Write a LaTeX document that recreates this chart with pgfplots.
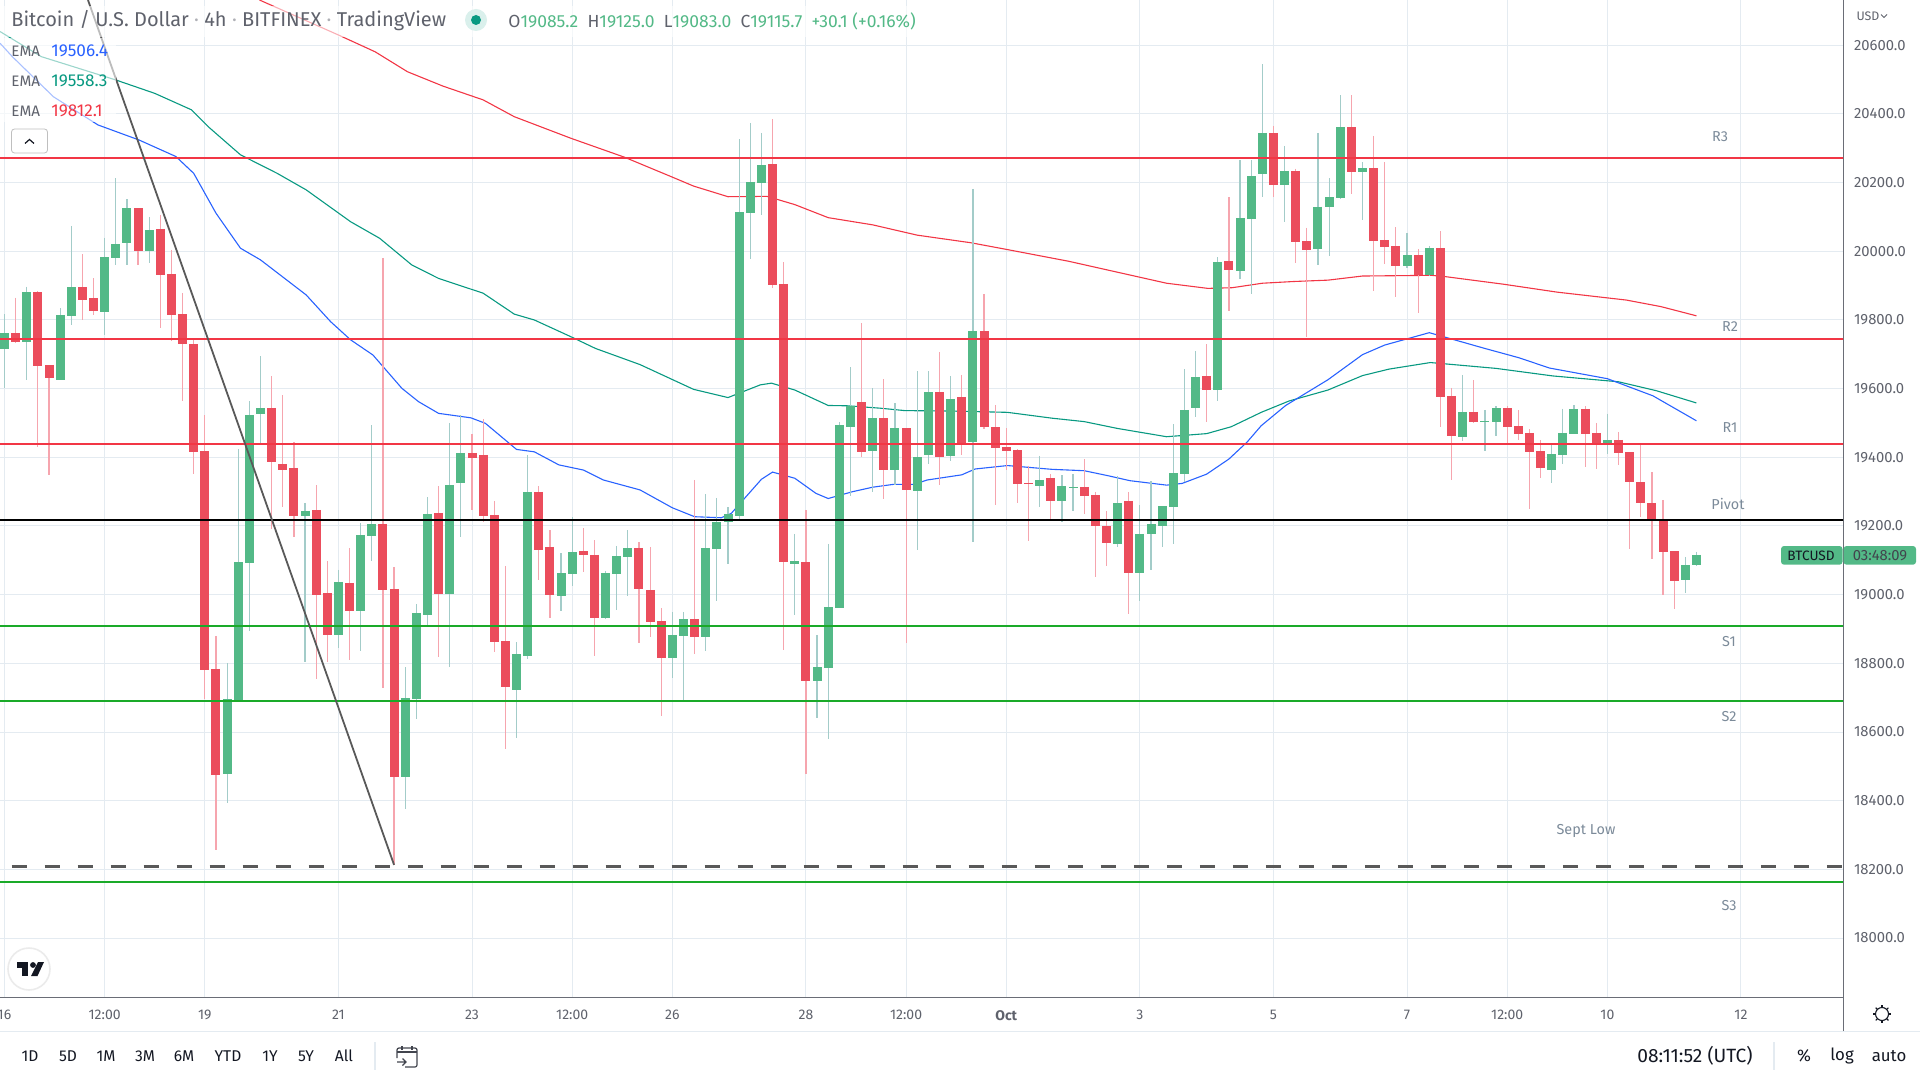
\documentclass[border=0pt]{standalone}
\usepackage{fontspec}
\setmainfont{Fira Sans}
\usepackage{pgfplots}
\usepackage{pgfplotstable}
\usetikzlibrary{calc}
\pgfplotsset{compat=1.18}

\definecolor{bodyG}{HTML}{53B987}
\definecolor{bodyR}{HTML}{EB4D5C}
\definecolor{wickG}{HTML}{A3CCC9}
\definecolor{wickR}{HTML}{F6A5AE}
\definecolor{lineR}{HTML}{F23645}
\definecolor{lineG}{HTML}{1AAA29}
\definecolor{emaB}{HTML}{2962FF}
\definecolor{emaG}{HTML}{089981}
\definecolor{gridc}{HTML}{E4EBF1}
\definecolor{axisc}{HTML}{50535E}
\definecolor{txt}{HTML}{5F626C}
\definecolor{note}{HTML}{7B8A99}
\definecolor{ink}{HTML}{131722}

% i hi top bot lo
\pgfplotstableread{
i hi top bot lo
0 19817 19762 19716 19601
2 19897 19881 19736 19625
5 19834 19815 19625 19625
6 20074 19896 19812 19785
9 20039 19983 19823 19756
10 20213 20021 19981 19960
11 20152 20126 20024 19960
13 20100 20062 20001 19966
20 18801 18696 18478 18393
21 19424 19095 18693 18693
22 19564 19523 19092 18894
23 19695 19544 19526 19441
27 19267 19244 19229 18804
30 19072 19037 18883 18845
32 19209 19174 18952 18836
33 19494 19206 19171 19098
36 18789 18699 18469 18376
37 18973 18947 18696 18638
38 19284 19235 18941 18912
40 19500 19319 19002 18789
41 19523 19413 19325 19168
46 18862 18827 18722 18583
47 19407 19299 18821 18813
50 19121 19063 18996 18952
51 19226 19124 19060 19025
54 19069 19063 18932 18929
55 19142 19113 19060 18955
56 19188 19136 19110 18996
60 18950 18883 18816 18757
61 18950 18929 18880 18693
63 19293 19136 18877 18836
64 19282 19212 19133 18982
65 19255 19235 19212 19089
66 20327 20114 19229 19217
67 20374 20202 20112 19978
68 20345 20251 20199 20106
71 19177 19098 19089 18941
73 18883 18789 18749 18641
74 19148 18964 18786 18580
75 19503 19494 18961 18961
76 19663 19549 19488 19286
78 19602 19515 19418 19299
80 19558 19485 19363 19319
82 19651 19401 19302 19130
83 19651 19590 19407 19381
85 19637 19570 19404 19389
87 20182 19768 19445 19153
93 19404 19334 19316 19255
95 19348 19316 19273 19212
96 19351 19314 19311 19244
100 19346 19267 19147 19139
102 19261 19177 19063 18982
103 19331 19206 19177 19072
104 19258 19258 19200 19139
105 19497 19354 19255 19148
106 19657 19538 19351 19329
107 19710 19634 19544 19517
109 19983 19969 19596 19564
111 20266 20097 19943 19919
112 20266 20219 20094 19876
113 20545 20345 20225 20158
115 20307 20234 20193 20085
118 20345 20130 20007 19960
119 20213 20158 20130 19987
120 20455 20362 20155 20152
122 20259 20242 20231 20092
126 20054 19989 19957 19952
128 20016 20009 19932 19927
131 19640 19532 19460 19447
133 19538 19505 19503 19418
134 19549 19543 19503 19462
139 19436 19409 19363 19325
140 19542 19471 19406 19381
141 19552 19541 19467 19467
144 19527 19451 19441 19409
151 19110 19086 19043 19005
152 19125 19115.7 19085.2 19083
}\upc

\pgfplotstableread{
i hi top bot lo
1 19865 19762 19736 19732
3 19884 19881 19666 19431
4 19669 19669 19631 19349
7 19992 19896 19858 19800
8 19922 19864 19826 19815
12 20126 20126 20001 19960
14 20106 20065 19931 19777
15 20004 19934 19815 19739
16 19879 19817 19730 19564
17 19742 19730 19416 19351
18 19523 19418 18781 18696
19 18880 18784 18475 18256
24 19637 19544 19386 19191
25 19581 19381 19363 19255
26 19445 19369 19229 19168
28 19319 19247 18999 18754
29 19098 19005 18883 18804
31 19136 19034 18952 18810
34 19981 19206 19014 18728
35 19081 19017 18469 18213
39 19316 19238 19002 18818
42 19468 19413 19398 19247
43 19512 19407 19229 19212
44 19273 19232 18862 18833
45 19084 18865 18731 18551
48 19316 19299 19130 19043
49 19188 19139 18999 18932
52 19194 19127 19116 19066
53 19159 19116 18932 18821
57 19153 19136 19017 18859
58 19139 19014 18920 18877
59 18961 18923 18816 18647
62 19334 18929 18877 18827
69 20385 20254 19902 19893
70 19969 19905 19095 18839
72 19247 19095 18749 18478
77 19791 19561 19416 19401
79 19628 19515 19363 19279
81 19485 19485 19305 18859
84 19707 19590 19401 19319
86 19640 19576 19439 19407
88 19876 19768 19488 19482
89 19552 19488 19427 19261
90 19485 19430 19418 19363
91 19424 19421 19322 19267
92 19375 19325 19322 19156
94 19351 19340 19273 19220
97 19395 19314 19287 19235
98 19299 19290 19200 19051
99 19244 19200 19150 19084
101 19299 19273 19063 18944
108 19730 19637 19596 19503
110 20158 19972 19946 19826
114 20365 20345 20193 20158
116 20241 20234 20027 19966
117 20069 20030 20004 19750
121 20455 20362 20231 20166
123 20336 20242 20030 19884
124 20260 20032 20012 19962
125 20070 20016 19957 19866
127 20007 19989 19932 19821
129 20059 20009 19576 19489
130 19602 19579 19462 19334
132 19625 19532 19503 19500
135 19549 19543 19489 19443
136 19538 19491 19467 19451
137 19482 19471 19415 19249
138 19451 19418 19368 19339
142 19549 19541 19467 19372
143 19500 19471 19438 19366
145 19474 19451 19413 19377
146 19415 19415 19328 19133
147 19437 19328 19267 19226
148 19356 19267 19218 19104
149 19276 19215 19124 18999
150 19127 19127 19039 18959
}\dnc

\newcommand{\wicks}[2]{\addplot[draw=none, mark=none, forget plot,
    error bars/.cd, y dir=minus, y explicit, error mark=none,
    error bar style={line width=0.6pt, draw=#2}]
    table[x=i, y=hi, y error minus expr=\thisrow{hi}-\thisrow{lo}] {#1};}
\newcommand{\bodies}[2]{\addplot[draw=none, mark=none, forget plot,
    error bars/.cd, y dir=minus, y explicit, error mark=none,
    error bar style={line width=4.5pt, draw=#2}]
    table[x=i, y=top, y error minus expr=\thisrow{top}-\thisrow{bot}] {#1};}
\newcommand{\level}[2]{\addplot[#2, line width=1pt, forget plot] coordinates {(-1,#1) (166,#1)};}

\begin{document}
\begin{tikzpicture}
\path[use as bounding box] (0,0) rectangle (960pt,-540pt);
\begin{axis}[
    at={(0,0)}, anchor=north west,
    scale only axis, width=921.5pt, height=498.5pt,
    xmin=-0.404, xmax=165.17, ymin=17828.2, ymax=20731.9,
    axis x line*=bottom, axis y line*=right,
    axis line style={color=axisc!85, line width=0.5pt, -},
    major tick length=0pt,
    grid=major, grid style={gridc, line width=0.5pt},
    xtick={0,9,18,30,42,51,60,72,81,90,102,114,126,135,144,156},
    xticklabels={16,12:00,19,21,23,12:00,26,28,12:00,\textbf{Oct},3,5,7,12:00,10,12},
    ytick={18000,18200,...,20600},
    scaled y ticks=false,
    /pgf/number format/.cd, fixed, fixed zerofill, precision=1, 1000 sep={}, assume math mode=true,
    /pgfplots/.cd,
    ticklabel style={font=\fontsize{7}{8}\selectfont, color=txt},
    xticklabel style={yshift=-3pt},
    yticklabel style={xshift=2pt, font=\fontsize{7.4}{8}\selectfont},
]
% EMA 200
\addplot[lineR, line width=0.55pt, forget plot] coordinates {
(22.9,20732) (30,20630) (33.3,20581) (36.2,20523) (39.4,20481) (43,20441) (45.8,20392)
(50.9,20329) (55.7,20274) (60,20216) (61.9,20190) (65,20159) (68.5,20160) (71,20136)
(74,20098) (78,20077) (82,20047) (86.8,20025) (90.1,20005) (95.6,19971) (100,19939)
(104.4,19907) (108.1,19892) (110.3,19894) (113,19907) (115.8,19912) (118.9,19916)
(122,19928) (128.2,19930) (129.5,19926) (134.7,19904) (139.5,19881) (145.7,19858)
(148.8,19839) (152,19812.1)};
% EMA 100
\addplot[emaG, line width=0.55pt, forget plot] coordinates {
(-0.4,20640) (3.3,20567) (10,20499) (13.5,20460) (16.8,20412) (18.3,20363) (21.2,20281)
(24.5,20227) (27.1,20179) (31.1,20086) (33.7,20038) (36.6,19960) (39,19921) (43,19878)
(45.8,19817) (47.6,19800) (50.9,19751) (53.1,19717) (57.1,19670) (61.9,19598) (65,19574)
(67.9,19611) (68.9,19616) (71,19596) (74,19551) (75.8,19550) (78.7,19543) (80.9,19536)
(84.6,19535) (90.1,19531) (94.1,19514) (97,19504) (100,19484) (104.4,19460) (108,19469)
(110.2,19489) (111.3,19506) (112.9,19531) (115.4,19564) (118.9,19596) (122,19638)
(124.4,19657) (128.1,19676) (134,19659) (139.1,19637) (145,19620) (148.4,19594) (152,19558.3)};
% EMA 50
\addplot[emaB, line width=0.55pt, forget plot] coordinates {
(-0.4,20606) (0.7,20567) (4.4,20450) (8.4,20368) (12.1,20324) (15.4,20276) (17,20227)
(19,20111) (21.2,20009) (23,19975) (27.1,19873) (29.3,19795) (31.1,19742) (33.1,19698)
(35.7,19601) (37.2,19562) (39,19528) (41.9,19515) (43.2,19499) (46,19423) (47.6,19416)
(49.8,19378) (52,19363) (53.8,19334) (57.1,19305) (60,19253) (62,19227) (64.4,19224)
(65.3,19237) (68,19336) (69,19357) (71,19339) (72.9,19295) (74,19280) (76.2,19300)
(78,19313) (79.8,19321) (81.7,19321) (82.9,19334) (86,19349) (87.2,19366) (90.1,19376)
(94.1,19365) (97,19361) (99.2,19346) (101.1,19332) (104.4,19319) (105.8,19324) (108,19351)
(110,19395) (111.65,19445) (112.9,19492) (115.1,19551) (118.9,19626) (122,19699)
(124,19727) (128,19763) (133,19717) (136.05,19690) (138.8,19660) (144,19629) (148.1,19579)
(152,19506.4)};
\wicks{\upc}{wickG}
\wicks{\dnc}{wickR}
\bodies{\upc}{bodyG}
\bodies{\dnc}{bodyR}
\level{20271.7}{lineR}
\level{19744.6}{lineR}
\level{19438.8}{lineR}
\level{19217.4}{black}
\level{18908.7}{lineG}
\level{18690.3}{lineG}
\level{18164}{lineG}
\addplot[color=black!65, line width=1.5pt, dash pattern=on 7.75pt off 8.75pt, forget plot]
    coordinates {(0.65,18208.8) (166,18208.8)};
\addplot[color=black!65, line width=0.9pt, forget plot]
    coordinates {(7.5,20731.9) (35,18213)};
\end{axis}

\begin{scope}[x=0.5pt, y=-0.5pt]
% header fades what runs under it
\fill[white, opacity=0.6] (0,6) rectangle (925,37);
\fill[white, opacity=0.6] (0,38) rectangle (116,122);
% right axis stub, footer rule
\draw[axisc!85, line width=0.5pt] (1843,997) -- (1843,1031);
\draw[gridc, line width=0.6pt] (0,1031.5) -- (1920,1031.5);

\tikzset{every node/.style={inner sep=0pt}}
\node[anchor=west, text=txt, font=\fontsize{10}{11}\selectfont] at (11,21)
    {Bitcoin / U.S. Dollar {\color{txt!50}·} 4h {\color{txt!50}·} BITFINEX {\color{txt!50}·} TradingView};
\fill[emaG!15] (476,20) circle (11);
\fill[emaG] (476,20) circle (5);
\node[anchor=west, font=\fontsize{8.75}{10}\selectfont, color=bodyG] at (508,21)
    {{\color{txt}O}19085.2\ \ {\color{txt}H}19125.0\ \ {\color{txt}L}19083.0\ \ {\color{txt}C}19115.7\ \ +30.1 (+0.16\%)};
\foreach \yy/\val/\cc in {51/19506.4/emaB, 81/19558.3/emaG, 111/19812.1/lineR}{
    \node[anchor=west, font=\fontsize{7.6}{8}\selectfont, color=txt] at (11,\yy) {EMA};
    \node[anchor=west, font=\fontsize{8.6}{9}\selectfont, color=\cc] at (51,\yy) {\val};
}
\draw[black!25, fill=white, line width=0.4pt, rounded corners=1.5pt] (11.5,129) rectangle (47.5,153);
\draw[ink, line width=0.6pt] (25,143.5) -- (29.5,139.5) -- (34,143.5);

% drawn labels
\foreach \xx/\yy/\tt in {1720/137/R3, 1730/327/R2, 1730/427.5/R1, 1728/504/Pivot,
    1729/641.5/S1, 1729/717/S2, 1729/906/S3, 1586/830.5/Sept Low}{
    \node[font=\fontsize{7.2}{8}\selectfont, color=note] at (\xx,\yy) {\tt};
}

% price tag
\fill[bodyG, rounded corners=1.5pt] (1781,546) rectangle (1842.5,564.7);
\fill[bodyG, rounded corners=1.5pt] (1843.5,546) rectangle (1916,564.7);
\node[font=\fontsize{6.8}{8}\selectfont, color=ink] at (1811,555.5) {BTCUSD};
\node[font=\fontsize{7.4}{8}\selectfont, color=ink!80] at (1880,555.5) {03:48:09};

% currency
\node[font=\fontsize{6.2}{8}\selectfont, color=txt] at (1868,16) {USD};
\draw[txt, line width=0.45pt] (1881,14.5) -- (1884,17.5) -- (1887,14.5);

% logo
\draw[black!8, fill=white, line width=0.8pt] (29,969) circle (21);
\fill[ink] (17,962) rectangle (28,967.5);
\fill[ink] (22,962) rectangle (28,976);
\fill[ink] (33,965) circle (2.9);
\fill[ink] (38,962) -- (44,962) -- (37.5,976) -- (31,976) -- cycle;

% toolbar
\foreach \xx/\tt in {30/1D, 68/5D, 106/1M, 145/3M, 184/6M, 228/YTD, 270/1Y, 306/5Y, 344/All}{
    \node[font=\fontsize{7.8}{9}\selectfont, color=ink] at (\xx,1056) {\tt};
}
\draw[gridc, line width=0.6pt] (375,1042) -- (375,1070);
\draw[ink!80, line width=0.6pt, rounded corners=1pt] (397,1058) -- (397,1048) -- (417,1048) -- (417,1067) -- (405,1067);
\draw[ink!80, line width=0.6pt] (397,1052) -- (417,1052);
\draw[ink!80, line width=0.6pt] (402,1046) -- (402,1050) (412,1046) -- (412,1050);
\draw[ink!80, line width=0.6pt] (397,1062) -- (406,1062) (402.5,1058.5) -- (406,1062) -- (402.5,1065.5);
\node[font=\fontsize{9.6}{11}\selectfont, color=ink] at (1695,1056) {08:11:52 (UTC)};
\draw[gridc, line width=0.6pt] (1774,1042) -- (1774,1070);
\node[font=\fontsize{8.4}{9}\selectfont, color=ink] at (1804,1056) {\%};
\node[font=\fontsize{8.4}{9}\selectfont, color=ink] at (1842,1056) {log};
\node[font=\fontsize{8.4}{9}\selectfont, color=ink] at (1889,1056) {auto};
% gear
\draw[ink, line width=0.55pt] (1882,1014) circle (6.5);
\foreach \a in {0,45,...,315}{
    \draw[ink, line width=0.55pt] ($(1882,1014)+(\a:6.5)$) -- ($(1882,1014)+(\a:9)$);
}
\end{scope}
\end{tikzpicture}
\end{document}
